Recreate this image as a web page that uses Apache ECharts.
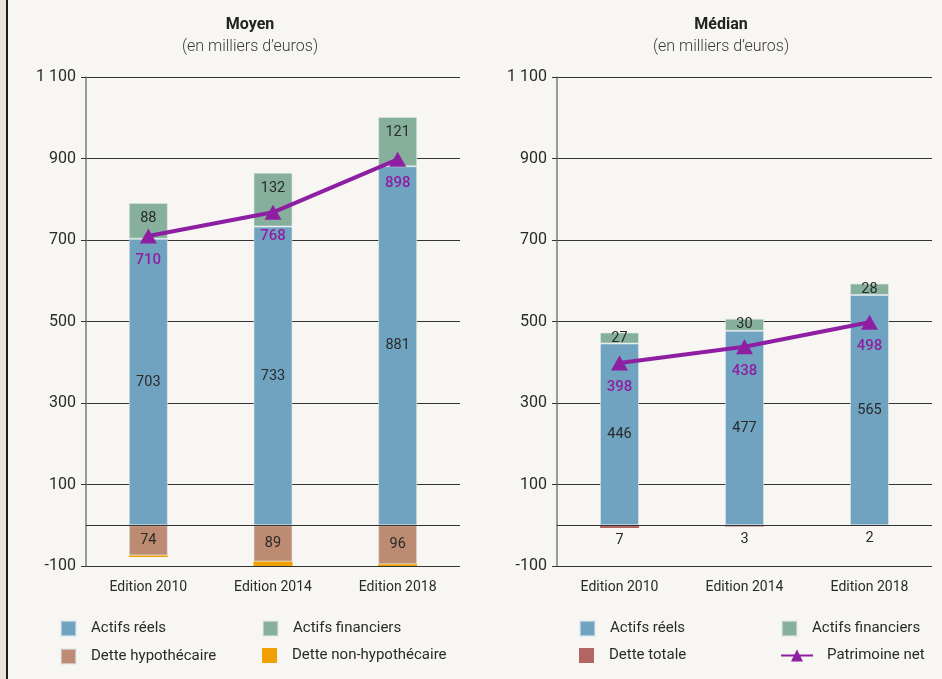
<!DOCTYPE html>
<html>
<head>
<meta charset="utf-8">
<script src="https://cdn.jsdelivr.net/npm/echarts@6/dist/echarts.min.js"></script>
<style>
html,body{margin:0;padding:0;background:#f7f6f2;}
#strip{position:absolute;left:0;top:0;width:6px;height:679px;background:#ece4d8;border-right:2px solid #1e1e1e;}
#chart{position:absolute;left:0;top:0;width:942px;height:679px;}
</style>
</head>
<body>
<div id="chart"></div>
<div id="strip"></div>
<script>
const categories = ['Edition 2010', 'Edition 2014', 'Edition 2018'];
const yTicks = [-100, 100, 300, 500, 700, 900, 1100];
// Moyen
const moyActifsReels = [703, 733, 881];
const moyActifsFinanciers = [88, 132, 121];
const moyDetteHypo = [-74, -89, -96];
const moyDetteNonHypo = [-4, -11, -5];
const moyPatrimoineNet = [710, 768, 898];
// Médian
const medActifsReels = [446, 477, 565];
const medActifsFinanciers = [27, 30, 28];
const medDetteTotale = [-7, -3, -2];
const medPatrimoineNet = [398, 438, 498];

const C = {
  reels: '#6fa3c0', fin: '#86b09c', hypo: '#bc8b71', nonhypo: '#f0a000',
  totale: '#b56464', net: '#8e1fa3', text: '#2a2a2a'
};
const FONT = 'Roboto';
const chart = echarts.init(document.getElementById('chart'));

function yAxis(gi) {
  return {
    gridIndex: gi, type: 'value', min: -100, max: 1100, interval: 200,
    axisLine: {show: true, lineStyle: {color: '#7a7a7a', width: 1.5}},
    axisTick: {show: true, length: 5, lineStyle: {color: '#333'}},
    splitLine: {show: true, lineStyle: {color: '#333', width: 1}},
    axisLabel: {color: C.text, fontFamily: FONT, fontSize: 16, margin: 10,
      formatter: v => yTicks.includes(v) ? String(v).replace(/\B(?=(\d{3})+(?!\d))/g, ' ') : ''}
  };
}
function xAxis(gi) {
  return {
    gridIndex: gi, type: 'category', data: categories,
    axisLine: {show: false, onZero: false}, axisTick: {show: false},
    axisLabel: {color: C.text, fontFamily: FONT, fontSize: 14, margin: 14}
  };
}
const lblBlack = {show: true, color: C.text, fontFamily: FONT, fontSize: 14.5};

function bar(name, data, color, gi, label, border) {
  return {
    type: 'bar', stack: 'stack' + gi, barWidth: 39,
    name, data, xAxisIndex: gi, yAxisIndex: gi,
    itemStyle: {color, borderColor: 'rgba(225,232,236,0.6)', borderWidth: border ? 1 : 0},
    label: label ? Object.assign({}, lblBlack, label) : {show: false}
  };
}
function netLine(data, gi) {
  return {
    name: 'Patrimoine net', type: 'line', data, xAxisIndex: gi, yAxisIndex: gi, z: 5,
    symbol: 'triangle', symbolSize: [17, 15],
    lineStyle: {color: C.net, width: 4}, itemStyle: {color: C.net},
    label: {show: true, position: 'bottom', distance: 9, color: C.net, fontFamily: FONT,
      fontSize: 15, fontWeight: 500}
  };
}
const zeroLine = {silent: true, symbol: 'none', label: {show: false},
  lineStyle: {color: '#333', width: 1, type: 'solid'}, data: [{yAxis: 0}]};

function legendItem(name, left, top, w) {
  return {data: [name], left, top, itemWidth: w || 15, itemHeight: 15, icon: w ? undefined : 'rect',
    selectedMode: false, padding: 0,
    textStyle: {color: C.text, fontFamily: FONT, fontSize: 15, padding: [0, 0, 0, w ? 9 : 10]}};
}
const titleStyle = {color: '#222', fontFamily: FONT, fontSize: 16, fontWeight: 'bold'};
const subStyle = {color: '#3a3a3a', fontFamily: FONT, fontSize: 16, fontWeight: 300};

const reelsMoy = bar('Actifs réels', moyActifsReels, C.reels, 0, {position: 'inside'}, true);
reelsMoy.markLine = zeroLine;
const reelsMed = bar('Actifs réels', medActifsReels, C.reels, 1, {position: 'inside'}, true);
reelsMed.markLine = zeroLine;

chart.setOption({
  backgroundColor: '#f7f6f2',
  animation: false,
  title: [
    {text: 'Moyen', subtext: '(en milliers d\u2019euros)', left: 245, top: 12, textAlign: 'center', itemGap: 6,
      textStyle: titleStyle, subtextStyle: subStyle},
    {text: 'Médian', subtext: '(en milliers d\u2019euros)', left: 716, top: 12, textAlign: 'center', itemGap: 6,
      textStyle: titleStyle, subtextStyle: subStyle}
  ],
  grid: [
    {left: 86, right: 482, top: 77, bottom: 113},
    {left: 557, right: 10, top: 77, bottom: 113}
  ],
  xAxis: [xAxis(0), xAxis(1)],
  yAxis: [yAxis(0), yAxis(1)],
  legend: [
    legendItem('Actifs réels', 60, 620), legendItem('Actifs financiers', 262, 620),
    legendItem('Dette hypothécaire', 60, 648), legendItem('Dette non-hypothécaire', 262, 648),
    legendItem('Actifs réels', 579, 620), legendItem('Actifs financiers', 781, 620),
    legendItem('Dette totale', 579, 648), legendItem('Patrimoine net', 780, 648, 32)
  ],
  series: [
    reelsMoy,
    bar('Actifs financiers', moyActifsFinanciers, C.fin, 0, {position: 'insideTop', distance: 8}, true),
    bar('Dette hypothécaire', moyDetteHypo, C.hypo, 0, {position: 'inside', formatter: p => Math.abs(p.value)}, true),
    bar('Dette non-hypothécaire', moyDetteNonHypo, C.nonhypo, 0, null, false),
    netLine(moyPatrimoineNet, 0),
    reelsMed,
    bar('Actifs financiers', medActifsFinanciers, C.fin, 1, {position: 'inside'}, true),
    bar('Dette totale', medDetteTotale, C.totale, 1, {position: 'bottom', distance: 5, formatter: p => Math.abs(p.value)}, false),
    netLine(medPatrimoineNet, 1)
  ]
});
</script>
</body>
</html>
